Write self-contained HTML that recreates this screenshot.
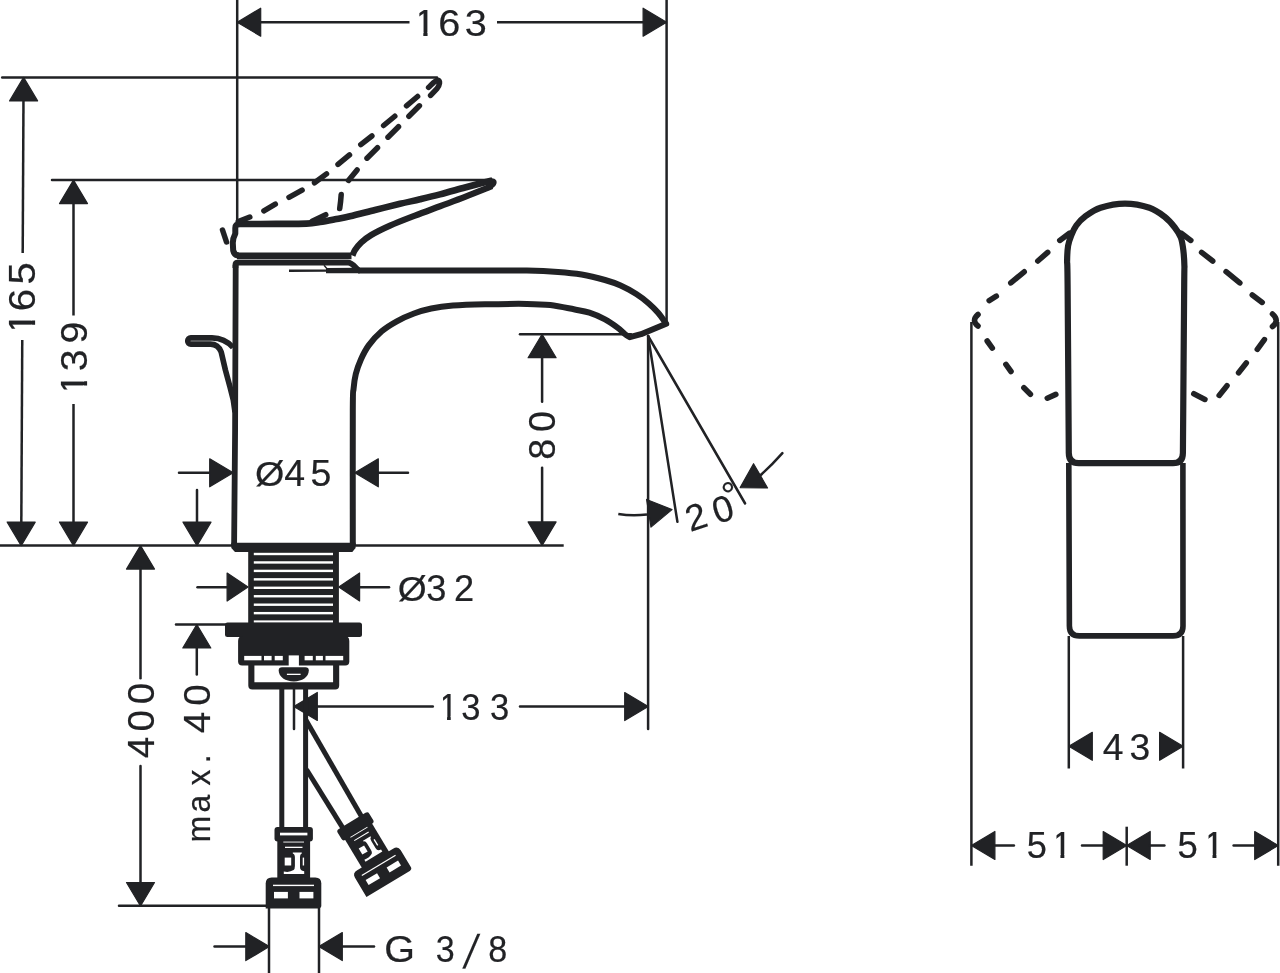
<!DOCTYPE html>
<html><head><meta charset="utf-8"><style>
html,body{margin:0;padding:0;background:#fff;}
svg{display:block;will-change:transform;}
.o{fill:none;stroke:#212225;stroke-linejoin:round;}
.w{fill:none;stroke:#fff;}
line{stroke:#212225;}
.ar{fill:#212225;stroke:#212225;stroke-width:1.2;stroke-linejoin:round;}
.t{font-family:"Liberation Sans",sans-serif;fill:#212225;stroke:#212225;stroke-width:0.2;}
</style></head><body>
<svg width="1280" height="973" viewBox="0 0 1280 973">
<defs><clipPath id="c1_1" clipPathUnits="userSpaceOnUse"><rect x="-20000.00" y="-264.08" width="20396.56" height="400.00"/><rect x="400.29" y="-264.08" width="3.75" height="296.27"/><rect x="404.04" y="-264.08" width="4.05" height="400.00"/><rect x="408.09" y="-264.08" width="7.19" height="296.27"/><rect x="415.28" y="-264.08" width="19584.72" height="400.00"/></clipPath><clipPath id="c1_2" clipPathUnits="userSpaceOnUse"><rect x="-20000.00" y="419.62" width="20476.29" height="400.00"/><rect x="479.40" y="419.62" width="4.30" height="296.30"/><rect x="483.70" y="419.62" width="4.01" height="400.00"/><rect x="487.71" y="419.62" width="7.12" height="296.30"/><rect x="494.83" y="419.62" width="19505.17" height="400.00"/></clipPath><clipPath id="c1_3" clipPathUnits="userSpaceOnUse"><rect x="-20000.00" y="557.82" width="21053.86" height="400.00"/><rect x="1057.12" y="557.82" width="3.95" height="296.39"/><rect x="1061.07" y="557.82" width="3.91" height="400.00"/><rect x="1064.98" y="557.82" width="6.93" height="296.39"/><rect x="1071.91" y="557.82" width="18928.09" height="400.00"/></clipPath><clipPath id="c1_4" clipPathUnits="userSpaceOnUse"><rect x="-20000.00" y="557.82" width="21199.01" height="400.00"/><rect x="1202.30" y="557.82" width="3.93" height="296.39"/><rect x="1206.23" y="557.82" width="3.91" height="400.00"/><rect x="1210.13" y="557.82" width="6.93" height="296.39"/><rect x="1217.06" y="557.82" width="18782.94" height="400.00"/></clipPath><clipPath id="c1_5" clipPathUnits="userSpaceOnUse"><rect x="-20000.00" y="-264.88" width="19687.02" height="400.00"/><rect x="-309.21" y="-264.88" width="3.69" height="296.28"/><rect x="-305.52" y="-264.88" width="4.03" height="400.00"/><rect x="-301.49" y="-264.88" width="7.17" height="296.28"/><rect x="-294.32" y="-264.88" width="20294.32" height="400.00"/></clipPath><clipPath id="c1_6" clipPathUnits="userSpaceOnUse"><rect x="-20000.00" y="-213.18" width="19629.99" height="400.00"/><rect x="-366.40" y="-213.18" width="3.70" height="296.35"/><rect x="-362.70" y="-213.18" width="3.96" height="400.00"/><rect x="-358.74" y="-213.18" width="7.02" height="296.35"/><rect x="-351.72" y="-213.18" width="20351.72" height="400.00"/></clipPath></defs>
<rect width="1280" height="973" fill="#fff"/>
<line x1="237.20" y1="0.00" x2="237.20" y2="222.00" stroke-width="2.50" stroke-linecap="butt"/>
<line x1="666.60" y1="0.00" x2="666.60" y2="324.00" stroke-width="2.50" stroke-linecap="butt"/>
<line x1="237.20" y1="22.20" x2="409.50" y2="22.20" stroke-width="2.50" stroke-linecap="butt"/>
<line x1="497.00" y1="22.20" x2="666.60" y2="22.20" stroke-width="2.50" stroke-linecap="butt"/>
<polygon class="ar" points="237.20,22.20 260.70,8.20 260.70,36.20"/>
<polygon class="ar" points="666.60,22.20 643.10,36.20 643.10,8.20"/>
<line x1="2.20" y1="77.40" x2="437.00" y2="77.40" stroke-width="2.50" stroke-linecap="round"/>
<line x1="52.00" y1="180.10" x2="492.00" y2="180.10" stroke-width="2.50" stroke-linecap="round"/>
<line x1="0.00" y1="545.60" x2="563.70" y2="545.60" stroke-width="2.50" stroke-linecap="butt"/>
<line x1="23.48" y1="100.00" x2="22.70" y2="253.00" stroke-width="2.50" stroke-linecap="butt"/>
<line x1="22.25" y1="340.00" x2="21.32" y2="522.00" stroke-width="2.50" stroke-linecap="butt"/>
<polygon class="ar" points="23.60,77.40 37.60,100.90 9.60,100.90"/>
<polygon class="ar" points="21.20,545.60 7.20,522.10 35.20,522.10"/>
<line x1="73.50" y1="200.00" x2="73.50" y2="315.50" stroke-width="2.50" stroke-linecap="butt"/>
<line x1="73.50" y1="404.00" x2="73.50" y2="522.00" stroke-width="2.50" stroke-linecap="butt"/>
<polygon class="ar" points="73.50,180.10 87.50,203.60 59.50,203.60"/>
<polygon class="ar" points="73.50,545.60 59.50,522.10 87.50,522.10"/>
<line x1="179.00" y1="472.80" x2="210.00" y2="472.80" stroke-width="2.50" stroke-linecap="round"/>
<polygon class="ar" points="233.20,472.80 209.70,486.80 209.70,458.80"/>
<line x1="378.00" y1="472.80" x2="408.00" y2="472.80" stroke-width="2.50" stroke-linecap="round"/>
<polygon class="ar" points="354.80,472.80 378.30,458.80 378.30,486.80"/>
<line x1="197.00" y1="490.00" x2="197.00" y2="522.00" stroke-width="2.50" stroke-linecap="round"/>
<polygon class="ar" points="197.00,545.60 183.00,522.10 211.00,522.10"/>
<line x1="197.50" y1="587.20" x2="228.00" y2="587.20" stroke-width="2.50" stroke-linecap="round"/>
<polygon class="ar" points="248.00,587.00 227.10,601.00 227.10,573.00"/>
<line x1="359.00" y1="587.20" x2="389.00" y2="587.20" stroke-width="2.50" stroke-linecap="round"/>
<polygon class="ar" points="338.80,587.00 359.60,573.00 359.60,601.00"/>
<line x1="176.00" y1="624.50" x2="226.00" y2="624.50" stroke-width="2.50" stroke-linecap="round"/>
<polygon class="ar" points="196.80,624.50 210.80,648.00 182.80,648.00"/>
<line x1="196.80" y1="648.00" x2="196.80" y2="674.40" stroke-width="2.50" stroke-linecap="round"/>
<polygon class="ar" points="140.50,545.60 154.50,569.10 126.50,569.10"/>
<line x1="140.50" y1="568.00" x2="140.50" y2="678.30" stroke-width="2.50" stroke-linecap="round"/>
<line x1="140.50" y1="766.00" x2="140.50" y2="884.00" stroke-width="2.50" stroke-linecap="round"/>
<polygon class="ar" points="140.50,906.00 126.50,882.50 154.50,882.50"/>
<line x1="119.00" y1="905.70" x2="266.00" y2="905.70" stroke-width="2.50" stroke-linecap="round"/>
<line x1="294.00" y1="689.00" x2="294.00" y2="729.00" stroke-width="2.50" stroke-linecap="round"/>
<polygon class="ar" points="293.80,706.50 317.30,692.50 317.30,720.50"/>
<line x1="316.00" y1="706.50" x2="432.80" y2="706.50" stroke-width="2.50" stroke-linecap="round"/>
<line x1="520.00" y1="706.50" x2="626.00" y2="706.50" stroke-width="2.50" stroke-linecap="round"/>
<polygon class="ar" points="648.20,706.50 624.70,720.50 624.70,692.50"/>
<line x1="520.00" y1="334.20" x2="631.00" y2="334.20" stroke-width="2.50" stroke-linecap="round"/>
<polygon class="ar" points="542.10,334.20 556.10,357.70 528.10,357.70"/>
<line x1="542.10" y1="356.00" x2="542.10" y2="401.80" stroke-width="2.50" stroke-linecap="round"/>
<line x1="542.10" y1="467.80" x2="542.10" y2="523.00" stroke-width="2.50" stroke-linecap="round"/>
<polygon class="ar" points="542.10,545.40 528.10,521.90 556.10,521.90"/>
<line x1="648.10" y1="336.00" x2="648.10" y2="729.00" stroke-width="2.50" stroke-linecap="round"/>
<line x1="648.10" y1="336.00" x2="677.40" y2="521.80" stroke-width="2.50" stroke-linecap="round"/>
<line x1="648.10" y1="336.00" x2="745.10" y2="503.50" stroke-width="2.50" stroke-linecap="round"/>
<path class="o" d="M618.3,514 Q632,516.3 647,514.5" stroke-width="2.50" />
<polygon class="ar" points="672.00,509.60 650.98,527.10 646.60,499.45"/>
<polygon class="ar" points="740.20,487.60 753.55,463.73 767.55,487.97"/>
<path class="o" d="M759,476.5 Q771,466 782.4,453.1" stroke-width="2.50" stroke-linecap="round"/>
<line x1="269.00" y1="908.00" x2="269.00" y2="973.00" stroke-width="2.50" stroke-linecap="butt"/>
<line x1="319.00" y1="908.00" x2="319.00" y2="973.00" stroke-width="2.50" stroke-linecap="butt"/>
<line x1="214.50" y1="946.60" x2="248.00" y2="946.60" stroke-width="2.50" stroke-linecap="round"/>
<polygon class="ar" points="269.30,946.60 245.80,960.60 245.80,932.60"/>
<line x1="340.00" y1="946.60" x2="374.00" y2="946.60" stroke-width="2.50" stroke-linecap="round"/>
<polygon class="ar" points="318.80,946.60 342.30,932.60 342.30,960.60"/>
<line x1="971.40" y1="322.00" x2="971.40" y2="865.70" stroke-width="2.50" stroke-linecap="butt"/>
<line x1="1278.20" y1="322.00" x2="1278.20" y2="865.70" stroke-width="2.50" stroke-linecap="butt"/>
<line x1="1126.70" y1="826.70" x2="1126.70" y2="865.70" stroke-width="2.50" stroke-linecap="butt"/>
<line x1="1068.80" y1="636.00" x2="1068.80" y2="768.50" stroke-width="2.50" stroke-linecap="butt"/>
<line x1="1183.10" y1="636.00" x2="1183.10" y2="768.50" stroke-width="2.50" stroke-linecap="butt"/>
<polygon class="ar" points="1068.80,746.30 1092.30,732.30 1092.30,760.30"/>
<polygon class="ar" points="1183.10,746.30 1159.60,760.30 1159.60,732.30"/>
<polygon class="ar" points="971.40,845.50 994.90,831.50 994.90,859.50"/>
<line x1="995.00" y1="845.50" x2="1013.90" y2="845.50" stroke-width="2.50" stroke-linecap="round"/>
<line x1="1082.00" y1="845.50" x2="1104.00" y2="845.50" stroke-width="2.50" stroke-linecap="round"/>
<polygon class="ar" points="1126.70,845.50 1103.20,859.50 1103.20,831.50"/>
<polygon class="ar" points="1126.70,845.50 1150.20,831.50 1150.20,859.50"/>
<line x1="1150.00" y1="845.50" x2="1164.40" y2="845.50" stroke-width="2.50" stroke-linecap="round"/>
<line x1="1233.60" y1="845.50" x2="1254.00" y2="845.50" stroke-width="2.50" stroke-linecap="round"/>
<polygon class="ar" points="1278.20,845.50 1254.70,859.50 1254.70,831.50"/>
<path class="o" d="M235.7,265 L235.1,430 L234.1,546" stroke-width="5.80" />
<path class="o" d="M352.80,545.00 C352.80,522.50 352.67,436.08 352.80,410.00 C352.93,383.92 353.10,394.50 353.60,388.50 C354.10,382.50 354.60,378.80 355.80,374.00 C357.00,369.20 358.65,364.47 360.80,359.70 C362.95,354.93 365.22,350.13 368.70,345.40 C372.18,340.67 377.02,335.32 381.70,331.30 C386.38,327.28 391.42,324.27 396.80,321.30 C402.18,318.33 408.25,315.63 414.00,313.50 C419.75,311.37 424.82,309.82 431.30,308.50 C437.78,307.18 443.95,306.30 452.90,305.60 C461.85,304.90 472.67,304.58 485.00,304.30 C497.33,304.02 516.02,303.78 526.90,303.90 C537.78,304.02 542.48,304.10 550.30,305.00 C558.12,305.90 567.28,308.02 573.80,309.30 C580.32,310.58 584.20,311.02 589.40,312.70 C594.60,314.38 600.32,316.92 605.00,319.40 C609.68,321.88 614.20,325.17 617.50,327.60 C620.80,330.03 622.75,332.40 624.80,334.00 C626.85,335.60 628.97,336.67 629.80,337.20 L641,334.2 L666.2,323.8 C664.85,321.97 661.00,316.20 658.10,312.80 C655.20,309.40 652.43,306.53 648.80,303.40 C645.17,300.27 641.00,296.98 636.30,294.00 C631.60,291.02 625.82,287.83 620.60,285.50 C615.38,283.17 611.50,281.83 605.00,280.00 C598.50,278.17 589.42,275.85 581.60,274.50 C573.78,273.15 567.22,272.55 558.10,271.90 C548.98,271.25 539.92,270.83 526.90,270.60 C513.88,270.37 501.15,270.52 480.00,270.50 C458.85,270.48 420.33,270.50 400.00,270.50 C379.67,270.50 365.00,270.50 358.00,270.50" stroke-width="6.00" />
<path class="o" d="M235.4,268 L235.4,265 Q235.4,262.6 238,262.6 L348,262.6 C352,262.6 354.5,266.5 358.5,270.3" stroke-width="5.80" />
<path class="o" d="M237,255.8 L351.5,255.8" stroke-width="6.80" />
<path class="o" d="M239.00,224.00 C245.17,223.98 264.77,223.97 276.00,223.90 C287.23,223.83 299.07,223.92 306.40,223.60 C313.73,223.28 315.23,222.72 320.00,222.00 C324.77,221.28 330.00,220.25 335.00,219.30 C340.00,218.35 343.33,217.85 350.00,216.30 C356.67,214.75 366.67,212.08 375.00,210.00 C383.33,207.92 392.50,205.58 400.00,203.80 C407.50,202.02 413.33,200.87 420.00,199.30 C426.67,197.73 432.50,196.37 440.00,194.40 C447.50,192.43 457.71,189.48 465.00,187.50 C472.29,185.52 479.17,183.68 483.75,182.50 C488.33,181.32 491.04,180.75 492.50,180.40" stroke-width="6.60" />
<path class="o" d="M492.00,186.20 C487.50,187.98 473.67,193.56 465.00,196.90 C456.33,200.24 448.33,203.13 440.00,206.25 C431.67,209.37 423.33,212.38 415.00,215.60 C406.67,218.82 397.29,222.37 390.00,225.60 C382.71,228.83 376.04,232.18 371.25,235.00 C366.46,237.82 363.96,240.00 361.25,242.50 C358.54,245.00 356.46,247.83 355.00,250.00 C353.54,252.17 352.92,254.58 352.50,255.50" stroke-width="6.20" />
<path class="o" d="M240,224 Q235.3,224 235.3,228 L235.3,233.6 C233.5,237 232.8,240 232.8,243 L233.2,250.5 C234,254 236,255.6 239,255.6" stroke-width="6.00" />
<path d="M486,179.6 C490,177.6 494.6,177.6 496.2,180.4 C497.6,183.2 495.5,186.8 491.5,188.6 L486,190 Z" fill="#212225"/>
<path class="o" d="M289,270.7 L326,270.6" stroke-width="2.40" />
<path class="o" d="M326,270.6 L360,270.5" stroke-width="5.40" />
<path class="o" d="M324,265.2 L327,268.8" stroke-width="1.40" />
<path class="o" d="M233,347.5 C227.5,341.2 220.5,337.9 212,337.9 L190.8,337.9 A3.1,3.1 0 0 0 190.8,344.1 L210.5,344.1 C215.5,344.1 219.3,347 221.2,352 L225.4,370 L230,387 L233.3,400 L235,412" stroke-width="5.60" />
<path class="o" d="M238.30,221.60 L249.80,217.00" stroke-width="5.50" stroke-linecap="round"/>
<path class="o" d="M263.90,210.90 L275.30,204.20" stroke-width="5.50" stroke-linecap="round"/>
<path class="o" d="M289.00,197.30 L302.10,190.10" stroke-width="5.50" stroke-linecap="round"/>
<path class="o" d="M314.50,182.80 L326.50,173.90" stroke-width="5.50" stroke-linecap="round"/>
<path class="o" d="M338.00,164.40 L349.50,154.90" stroke-width="5.50" stroke-linecap="round"/>
<path class="o" d="M360.80,144.60 L371.90,136.00" stroke-width="5.50" stroke-linecap="round"/>
<path class="o" d="M383.60,125.50 L394.80,116.25" stroke-width="5.50" stroke-linecap="round"/>
<path class="o" d="M406.50,105.80 L417.60,96.50" stroke-width="5.50" stroke-linecap="round"/>
<path class="o" d="M312.20,221.25 L325.75,214.70" stroke-width="5.50" stroke-linecap="round"/>
<path class="o" d="M348.50,180.40 L357.10,169.90" stroke-width="5.50" stroke-linecap="round"/>
<path class="o" d="M367.00,158.20 L377.50,147.70" stroke-width="5.50" stroke-linecap="round"/>
<path class="o" d="M388.00,137.20 L398.50,126.70" stroke-width="5.50" stroke-linecap="round"/>
<path class="o" d="M408.90,116.25 L419.40,105.80" stroke-width="5.50" stroke-linecap="round"/>
<path class="o" d="M339.7,208.6 Q340.8,201 341.2,194.5" stroke-width="5.50" stroke-linecap="round"/>
<path class="o" d="M428.6,87.4 C432.5,83.6 435.3,80.2 437.8,80.2 C440.6,80.2 439.8,85 437,88.6 L430.6,95.4" stroke-width="5.50" stroke-linecap="round"/>
<path class="o" d="M222.5,230 L226.5,242" stroke-width="5.50" stroke-linecap="round"/>
<path d="M231.3,542.8 L355.6,542.8 L355.6,548 L352.3,552.1 L235,552.1 L231.3,548 Z" fill="#212225"/>
<rect x="248.2" y="551" width="90.7" height="72" fill="#212225"/>
<rect x="253.8" y="552.80" width="79.2" height="2.4" fill="#fff"/>
<rect x="253.8" y="561.25" width="79.2" height="2.4" fill="#fff"/>
<rect x="253.8" y="569.70" width="79.2" height="2.4" fill="#fff"/>
<rect x="253.8" y="578.15" width="79.2" height="2.4" fill="#fff"/>
<rect x="253.8" y="586.60" width="79.2" height="2.4" fill="#fff"/>
<rect x="253.8" y="595.05" width="79.2" height="2.4" fill="#fff"/>
<rect x="253.8" y="603.50" width="79.2" height="2.4" fill="#fff"/>
<rect x="253.8" y="611.95" width="79.2" height="2.4" fill="#fff"/>
<rect x="253.8" y="620.40" width="79.2" height="2.4" fill="#fff"/>
<rect x="225" y="622.5" width="137" height="14.5" rx="2.5" fill="#212225"/>
<path d="M243,636 L344.4,636 Q349.3,636 349.3,641 L349.3,661.5 Q349.3,665.5 345.3,665.5 L242.1,665.5 Q238.1,665.5 238.1,661.5 L238.1,641 Q238.1,636 243,636 Z" fill="#212225"/>
<rect x="244.20" y="655.9" width="17.30" height="4.4" fill="#fff"/>
<rect x="264.00" y="655.9" width="7.60" height="4.4" fill="#fff"/>
<rect x="274.70" y="655.9" width="8.10" height="4.4" fill="#fff"/>
<rect x="304.60" y="655.9" width="8.20" height="4.4" fill="#fff"/>
<rect x="315.80" y="655.9" width="7.10" height="4.4" fill="#fff"/>
<rect x="325.50" y="655.9" width="17.70" height="4.4" fill="#fff"/>
<rect x="288.7" y="655.4" width="10.2" height="11.2" fill="#fff"/>
<path d="M248.3,665 L254.4,665 L254.4,682.3 L333.1,682.3 L333.1,665 L339.2,665 L339.2,685.4 Q339.2,689.4 335.2,689.4 L252.3,689.4 Q248.3,689.4 248.3,685.4 Z" fill="#212225"/>
<path d="M282,667.3 L305.5,667.3 Q308.8,667.3 308.8,670.5 C308.8,677 302,681.4 293.8,681.4 C285.5,681.4 278.7,677 278.7,670.5 Q278.7,667.3 282,667.3 Z" fill="#212225"/>
<rect x="286.9" y="673.7" width="13.7" height="1.3" fill="#fff"/>
<line x1="281.80" y1="689.00" x2="281.80" y2="828.00" stroke-width="5.00" stroke-linecap="butt"/>
<line x1="305.60" y1="689.00" x2="305.60" y2="828.00" stroke-width="5.00" stroke-linecap="butt"/>
<line x1="305.60" y1="719.50" x2="361.50" y2="816.50" stroke-width="5.00" stroke-linecap="butt"/>
<line x1="306.50" y1="769.50" x2="342.60" y2="827.60" stroke-width="5.00" stroke-linecap="butt"/>
<g transform="translate(293.6,827.1)"><rect x="-19.1" y="0" width="38.4" height="14.4" rx="3" fill="#212225"/><rect x="-13.6" y="5.6" width="27.4" height="2.7" fill="#fff"/><rect x="-16.3" y="13" width="32.8" height="39" fill="#212225"/><rect x="-10.3" y="14.5" width="20.7" height="0.9" fill="#fff"/><rect x="-8.6" y="19.6" width="17.5" height="1.3" fill="#fff"/><path d="M-0.8,25.4 L8.2,25.4 L8.2,26.4 Q6.4,27 6.4,30.5 L6.4,40 Q6.4,44 10.6,44.2 L10.6,47 L-9.8,47 L-9.8,44.4 Q-4,45.6 0,43 Q1.3,42 1.3,39 L1.3,30.5 Q1.3,27 -0.8,26.4 Z" fill="#fff"/><rect x="-8.9" y="30.5" width="6.5" height="7.9" fill="#fff"/><rect x="9.1" y="30.5" width="1.4" height="7.9" fill="#fff"/><path d="M-27.9,81.5 L-27.9,56.5 Q-27.9,50.5 -21.9,50.5 L21.7,50.5 Q27.7,50.5 27.7,56.5 L27.7,78.5 Q27.7,81.5 24.7,81.5 Z" fill="#212225"/><rect x="-20.6" y="57.6" width="41" height="1.4" fill="#fff"/><rect x="-19.6" y="64.8" width="13.9" height="6.5" fill="#fff"/><rect x="5.9" y="64.8" width="13.9" height="6.5" fill="#fff"/></g>
<g transform="translate(348.1,812.8) rotate(-31) translate(-0.8,9) scale(0.96,0.89)"><rect x="-19.1" y="0" width="38.4" height="14.4" rx="3" fill="#212225"/><rect x="-16.3" y="13" width="32.8" height="39" fill="#212225"/><rect x="-10.3" y="14.5" width="20.7" height="0.9" fill="#fff"/><rect x="-8.6" y="19.6" width="17.5" height="1.3" fill="#fff"/><path d="M-0.8,25.4 L8.2,25.4 L8.2,26.4 Q6.4,27 6.4,30.5 L6.4,40 Q6.4,44 10.6,44.2 L10.6,47 L-9.8,47 L-9.8,44.4 Q-4,45.6 0,43 Q1.3,42 1.3,39 L1.3,30.5 Q1.3,27 -0.8,26.4 Z" fill="#fff"/><rect x="-8.9" y="30.5" width="6.5" height="7.9" fill="#fff"/><rect x="9.1" y="30.5" width="1.4" height="7.9" fill="#fff"/><path d="M-27.9,81.5 L-27.9,56.5 Q-27.9,50.5 -21.9,50.5 L21.7,50.5 Q27.7,50.5 27.7,56.5 L27.7,78.5 Q27.7,81.5 24.7,81.5 Z" fill="#212225"/><rect x="-20.6" y="57.6" width="41" height="1.4" fill="#fff"/><rect x="-19.6" y="64.8" width="13.9" height="6.5" fill="#fff"/><rect x="5.9" y="64.8" width="13.9" height="6.5" fill="#fff"/></g>
<path class="o" d="M1068.80,453.00 C1068.60,425.00 1067.88,317.00 1067.60,285.00 C1067.32,253.00 1067.02,267.53 1067.10,261.00 C1067.18,254.47 1067.42,250.03 1068.10,245.80 C1068.78,241.57 1069.83,238.98 1071.20,235.60 C1072.57,232.22 1073.93,228.72 1076.30,225.50 C1078.67,222.28 1081.35,219.27 1085.40,216.30 C1089.45,213.33 1094.00,209.82 1100.60,207.70 C1107.20,205.58 1116.87,203.60 1125.00,203.60 C1133.13,203.60 1142.80,205.50 1149.40,207.70 C1156.00,209.90 1160.37,213.50 1164.60,216.80 C1168.83,220.10 1172.08,224.02 1174.80,227.50 C1177.52,230.98 1179.47,233.80 1180.90,237.70 C1182.33,241.60 1182.82,246.17 1183.40,250.90 C1183.98,255.63 1184.27,260.42 1184.40,266.10 C1184.53,271.78 1184.45,253.85 1184.20,285.00 C1183.95,316.15 1183.12,425.00 1182.90,453.00 Q1182.9,463.2 1172.9,463.2 L1078.8,463.2 Q1068.8,463.2 1068.8,453" stroke-width="6.20" />
<path class="o" d="M1068.8,463 L1069.4,626 Q1069.4,635.9 1079.4,635.9 L1173,635.9 Q1183,635.9 1183,626 L1182.9,463" stroke-width="5.60" />
<path class="o" d="M1059.80,240.40 L1069.70,233.10" stroke-width="5.60" stroke-linecap="round"/>
<path class="o" d="M1037.80,261.00 L1047.70,252.40" stroke-width="5.60" stroke-linecap="round"/>
<path class="o" d="M1010.80,282.90 L1024.20,271.80" stroke-width="5.60" stroke-linecap="round"/>
<path class="o" d="M989.20,300.60 L996.30,296.20" stroke-width="5.60" stroke-linecap="round"/>
<path class="o" d="M987.20,341.00 L992.30,348.10" stroke-width="5.60" stroke-linecap="round"/>
<path class="o" d="M1005.90,364.40 L1011.00,371.50" stroke-width="5.60" stroke-linecap="round"/>
<path class="o" d="M1023.90,387.70 L1030.40,394.20" stroke-width="5.60" stroke-linecap="round"/>
<path class="o" d="M1047.30,398.20 L1055.80,394.40" stroke-width="5.60" stroke-linecap="round"/>
<path class="o" d="M1181.00,233.10 L1190.80,240.40" stroke-width="5.60" stroke-linecap="round"/>
<path class="o" d="M1201.60,252.40 L1212.70,261.00" stroke-width="5.60" stroke-linecap="round"/>
<path class="o" d="M1226.10,271.70 L1239.80,282.90" stroke-width="5.60" stroke-linecap="round"/>
<path class="o" d="M1252.30,294.90 L1262.20,302.40" stroke-width="5.60" stroke-linecap="round"/>
<path class="o" d="M1257.30,349.30 L1264.40,339.60" stroke-width="5.60" stroke-linecap="round"/>
<path class="o" d="M1238.60,372.70 L1246.30,362.90" stroke-width="5.60" stroke-linecap="round"/>
<path class="o" d="M1219.20,395.40 L1227.00,385.70" stroke-width="5.60" stroke-linecap="round"/>
<path class="o" d="M1193.80,393.70 L1204.90,399.40" stroke-width="5.60" stroke-linecap="round"/>
<path class="o" d="M978,314.5 Q971,320.5 978,326" stroke-width="5.60" stroke-linecap="round"/>
<path class="o" d="M1272.5,314 Q1280,320.5 1272.5,326.5" stroke-width="5.60" stroke-linecap="round"/>
<text class="t" transform="scale(1.0477,1)" x="394.87 418.22 443.52" y="35.92" font-size="37.85" clip-path="url(#c1_1)">163</text>
<text class="t" transform="scale(1.0735,1)" x="237.63" y="486.23" font-size="35.19">Ø</text>
<text class="t" transform="scale(1.0174,1)" x="279.46 305.13" y="486.22" font-size="36.86">45</text>
<text class="t" transform="scale(1.0494,1)" x="379.08" y="600.83" font-size="35.46">Ø</text>
<text class="t" transform="scale(0.9750,1)" x="437.15 465.61" y="600.82" font-size="37.15">32</text>
<text class="t" transform="scale(0.9242,1)" x="474.64 498.98 530.30" y="719.62" font-size="37.43" clip-path="url(#c1_2)">133</text>
<text class="t" transform="scale(1.0441,1)" x="368.00" y="962.32" font-size="37.85">G</text>
<text class="t" transform="scale(0.9008,1)" x="483.81 542.09" y="962.32" font-size="37.85">38</text>
<text class="t" transform="translate(462.6,968.2) skewX(-12) scale(0.8,1)" x="0" y="0" font-size="47.25">/</text>
<text class="t" transform="scale(0.9930,1)" x="1110.58 1137.46" y="759.62" font-size="37.57">43</text>
<text class="t" transform="scale(0.9994,1)" x="1027.35 1052.29" y="857.82" font-size="36.30" clip-path="url(#c1_3)">51</text>
<text class="t" transform="scale(1.0052,1)" x="1171.52 1197.45" y="857.82" font-size="36.30" clip-path="url(#c1_4)">51</text>
<text class="t" transform="rotate(-90) scale(1.0632,1)" x="-314.65 -292.84 -267.70" y="35.12" font-size="37.71" clip-path="url(#c1_5)">165</text>
<text class="t" transform="rotate(-90) scale(1.0630,1)" x="-371.62 -349.34 -323.19" y="86.82" font-size="36.86" clip-path="url(#c1_6)">139</text>
<text class="t" transform="rotate(-90) scale(1.0579,1)" x="-716.77 -691.55 -665.79" y="154.02" font-size="36.58">400</text>
<text class="t" transform="rotate(-90) scale(1.0023,1)" x="-458.69 -431.10" y="555.42" font-size="37.57">80</text>
<text class="t" transform="rotate(-90) scale(0.9687,1)" x="-869.46 -838.88 -811.00 -787.84" y="210.44" font-size="32.71">max.</text>
<text class="t" transform="rotate(-90) scale(1.0224,1)" x="-717.22 -690.25" y="210.42" font-size="37.85">40</text>
<text class="t" transform="translate(691.9,531.5) rotate(-18)" x="-1.85 26.1 40.5" y="0 0.8 -10.4" font-size="36.7">20°</text>
</svg>
</body></html>
